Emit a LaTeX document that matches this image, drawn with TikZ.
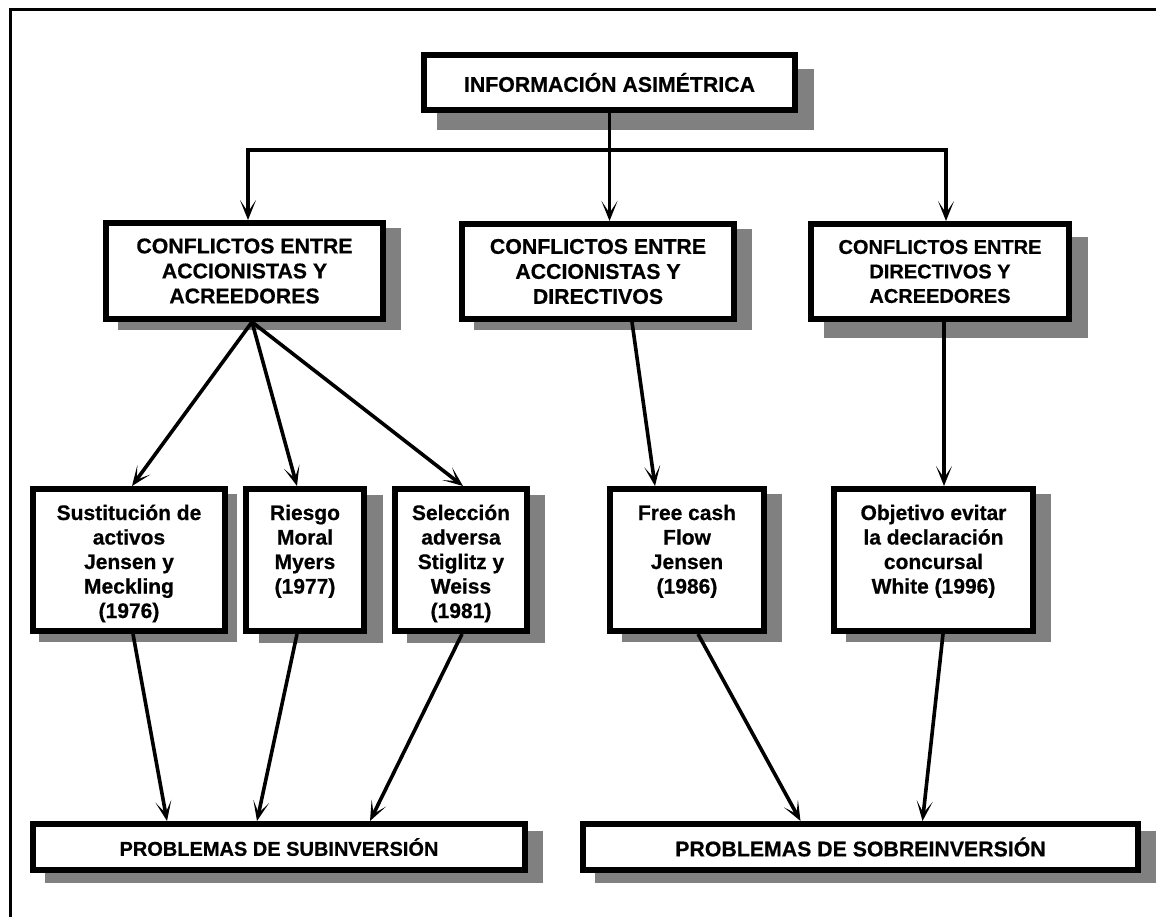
\documentclass[tikz,border=0pt]{standalone}
\usepackage{fontspec}
\setmainfont{Liberation Sans}[BoldFeatures={FakeBold=0.6}]
\usetikzlibrary{arrows.meta,calc}
\pgfdeclarelayer{shadowlayer}
\pgfsetlayers{shadowlayer,main}
% text block of a tall box: fixed size, lines set from the top
\newcommand{\topset}[3]{\parbox[t][#2pt][t]{#1pt}{\centering\rule{0pt}{31pt}#3}}
% grey drop shadow behind a named box
\newcommand{\boxshadow}[3]{%
  \begin{pgfonlayer}{shadowlayer}
    \fill[shadowgrey] ($(#1.north west)+(#2,#3)$) rectangle ($(#1.south east)+(#2,#3)$);
  \end{pgfonlayer}}
\definecolor{shadowgrey}{RGB}{128,128,128}
\begin{document}
\begin{tikzpicture}[x=1pt,y=-1pt,
  box/.style={draw=black, line width=6pt, fill=white, inner sep=0pt, align=center},
  headtext/.style={font=\bfseries\fontsize{21.3}{25}\selectfont},
  smallhead/.style={font=\bfseries\fontsize{20}{24.5}\selectfont},
  bodytext/.style={font=\bfseries\fontsize{21}{24.5}\selectfont},
  foottext/.style={font=\bfseries\fontsize{20}{24}\selectfont},
  tip/.tip={Stealth[length=20pt,width=16pt,inset=12pt]},
  link/.style={line width=3.6pt, -tip},
  frameline/.style={line width=3pt}]
\useasboundingbox (0,0) rectangle (1156,916);

% page frame (open to the right and bottom)
\draw[frameline] (10,925) -- (10,9) -- (1165,9);

% top level
\node[box, headtext, minimum width=371pt, minimum height=55pt] (top) at (609.5,82.5) {INFORMACIÓN ASIMÉTRICA};

% conflicts
\node[box, headtext, minimum width=277pt, minimum height=96pt] (A) at (244.5,271) {CONFLICTOS ENTRE\\ACCIONISTAS Y\\ACREEDORES};
\node[box, headtext, minimum width=272pt, minimum height=95pt] (B) at (598,271.5) {CONFLICTOS ENTRE\\ACCIONISTAS Y\\DIRECTIVOS};
\node[box, smallhead, minimum width=258pt, minimum height=95pt] (C) at (940,271.5) {CONFLICTOS ENTRE\\DIRECTIVOS Y\\ACREEDORES};

% theories
\node[box, bodytext] (D) at (129,560) {\topset{192}{142}{Sustitución de\\activos\\Jensen y\\Meckling\\(1976)}};
\node[box, bodytext] (E) at (305,560) {\topset{118}{142}{Riesgo\\Moral\\Myers\\(1977)}};
\node[box, bodytext] (F) at (461,560) {\topset{132}{142}{Selección\\adversa\\Stiglitz y\\Weiss\\(1981)}};
\node[box, bodytext] (G) at (687,560) {\topset{154}{142}{Free cash\\Flow\\Jensen\\(1986)}};
\node[box, bodytext] (H) at (933.5,560) {\topset{199}{142}{Objetivo evitar\\la declaración\\concursal\\White (1996)}};

% outcomes
\node[box, foottext, minimum width=492pt, minimum height=46pt] (P1) at (279,847) {PROBLEMAS DE SUBINVERSIÓN};
\node[box, headtext, minimum width=555pt, minimum height=46pt] (P2) at (860.5,847) {PROBLEMAS DE SOBREINVERSIÓN};

% shadows
\boxshadow{top}{16}{17}
\boxshadow{A}{15}{8}
\boxshadow{B}{15}{8}
\boxshadow{C}{16}{16}
\boxshadow{D}{9}{8}
\boxshadow{E}{16}{9}
\boxshadow{F}{15}{9}
\boxshadow{G}{15}{8}
\boxshadow{H}{15}{8}
\boxshadow{P1}{15}{10}
\boxshadow{P2}{15}{10}

% distribution bus
\coordinate (busL) at (248,150);
\coordinate (busR) at (946,150);
\draw[line width=3.2pt, tip-tip]
  (busL |- A.north) -- (busL) -- (busR) -- (busR |- C.north);
\draw[link] (top.south) -- (top.south |- B.north);

% conflicts to theories
\draw[link] ([xshift=7.5pt]A.south) -- ([xshift=3pt]D.north);
\draw[link] ([xshift=7.5pt]A.south) -- ([xshift=-8pt]E.north);
\draw[link] ([xshift=7.5pt]A.south) -- ([xshift=2pt]F.north);
\draw[link] ([xshift=34pt]B.south) -- ([xshift=-32pt]G.north);
\draw[link] ([xshift=4pt]C.south) -- ([xshift=10.5pt]H.north);

% theories to outcomes
\draw[link] ([xshift=4pt]D.south) -- ([xshift=-112pt]P1.north);
\draw[link] ([xshift=-8pt]E.south) -- ([xshift=-22pt]P1.north);
\draw[link] ([xshift=1pt]F.south) -- ([xshift=91pt]P1.north);
\draw[link] ([xshift=11pt]G.south) -- ([xshift=-60pt]P2.north);
\draw[link] ([xshift=9.5pt]H.south) -- ([xshift=62pt]P2.north);
\end{tikzpicture}
\end{document}
